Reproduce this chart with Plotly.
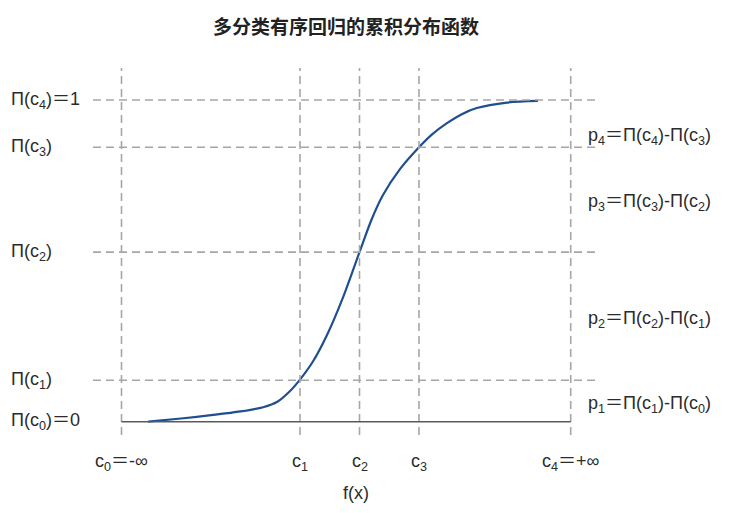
import plotly.graph_objects as go

# ---- data ----
cut_names = ["c<sub>0</sub>＝-∞", "c<sub>1</sub>", "c<sub>2</sub>", "c<sub>3</sub>", "c<sub>4</sub>＝+∞"]
cut_x = [0.0, 3.0, 4.0, 5.0, 7.55]
pi_names = ["Π(c<sub>0</sub>)＝0", "Π(c<sub>1</sub>)", "Π(c<sub>2</sub>)", "Π(c<sub>3</sub>)", "Π(c<sub>4</sub>)＝1"]
pi_y = [0.0, 0.129, 0.527, 0.853, 1.0]
p_names = ["p<sub>1</sub>＝Π(c<sub>1</sub>)-Π(c<sub>0</sub>)",
           "p<sub>2</sub>＝Π(c<sub>2</sub>)-Π(c<sub>1</sub>)",
           "p<sub>3</sub>＝Π(c<sub>3</sub>)-Π(c<sub>2</sub>)",
           "p<sub>4</sub>＝Π(c<sub>4</sub>)-Π(c<sub>3</sub>)"]
curve_x = [0.45, 1.0, 1.54, 2.0, 2.38, 2.62, 2.82, 3.0, 3.22, 3.45, 3.72, 4.0, 4.2, 4.39, 4.68, 5.0, 5.22, 5.47, 5.72, 5.97, 6.48, 7.0]
curve_y = [0.0, 0.01, 0.021, 0.032, 0.045, 0.062, 0.093, 0.131, 0.188, 0.268, 0.385, 0.527, 0.627, 0.703, 0.785, 0.853, 0.893, 0.928, 0.956, 0.975, 0.992, 0.997]

title = "多分类有序回归的累积分布函数"
xlabel = "f(x)"

# ---- layout helpers (pixel positions refer to the 735x513 window; page body has 8px margin) ----
W, H = 735, 513
OFF = 8
x0px, xscale = 121.5, 59.5
y0px, yscale = 421.7, 321.7
def px2x(px):
    return (px - x0px) / xscale
def py2y(py):
    return (y0px - py) / yscale

GRID = "#a6a6a6"
TXT = "#2b2b2b"
FONT = "Liberation Sans, Arial, Noto Sans CJK SC, sans-serif"
FS = 18

fig = go.Figure()

shapes = []
for cx in cut_x:
    shapes.append(dict(type="line", xref="x", yref="y", x0=cx, x1=cx,
                       y0=py2y(435), y1=py2y(68),
                       line=dict(color=GRID, width=1.6, dash="8px,5px")))
for py in pi_y[1:]:
    shapes.append(dict(type="line", xref="x", yref="y", x0=px2x(93), x1=px2x(597),
                       y0=py, y1=py,
                       line=dict(color=GRID, width=1.6, dash="8px,5px")))
shapes.append(dict(type="line", xref="x", yref="y", x0=cut_x[0], x1=cut_x[-1],
                   y0=pi_y[0], y1=pi_y[0], line=dict(color="#5a5a5a", width=1.6)))

fig.add_trace(go.Scatter(x=curve_x, y=curve_y, mode="lines",
                         line=dict(color="#1f4f8f", width=2.2, shape="spline", smoothing=0.8),
                         hoverinfo="skip", showlegend=False))

ann = []
for name, py in zip(pi_names, pi_y):
    ann.append(dict(x=px2x(9), y=py, xref="x", yref="y", text=name, showarrow=False,
                    xanchor="left", yanchor="middle", font=dict(size=FS, color=TXT, family=FONT)))
for name, cx in zip(cut_names, cut_x):
    ann.append(dict(x=cx, y=py2y(462), xref="x", yref="y", text=name, showarrow=False,
                    xanchor="center", yanchor="middle", font=dict(size=FS, color=TXT, family=FONT)))
for i, name in enumerate(p_names):
    mid = (pi_y[i] + pi_y[i + 1]) / 2
    off = 0.03 if i == 3 else 0.0
    ann.append(dict(x=px2x(586), y=mid - off - 0.01, xref="x", yref="y", text=name, showarrow=False,
                    xanchor="left", yanchor="middle", font=dict(size=FS, color=TXT, family=FONT)))
ann.append(dict(x=px2x(356), y=py2y(493), xref="x", yref="y", text=xlabel, showarrow=False,
                xanchor="center", yanchor="middle", font=dict(size=FS, color=TXT, family=FONT)))
ann.append(dict(x=px2x(346), y=py2y(25), xref="x", yref="y", text="<b>" + title + "</b>", showarrow=False,
                xanchor="center", yanchor="middle",
                font=dict(size=19, color="#222222", family="Noto Sans CJK SC, sans-serif")))

fig.update_layout(
    width=W - OFF, height=H - OFF,
    margin=dict(l=0, r=0, t=0, b=0),
    paper_bgcolor="white", plot_bgcolor="white",
    shapes=shapes, annotations=ann,
    xaxis=dict(range=[px2x(OFF), px2x(W)], visible=False, fixedrange=True),
    yaxis=dict(range=[py2y(H), py2y(OFF)], visible=False, fixedrange=True),
    showlegend=False,
)

fig.write_html("out.html")
